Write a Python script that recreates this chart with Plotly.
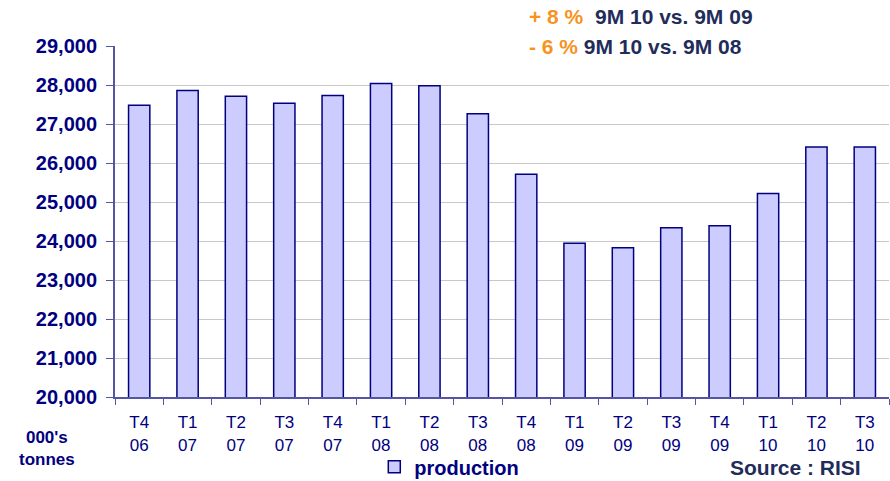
import plotly.graph_objects as go

# Quarterly production, thousand tonnes
quarters = ["T4<br>06", "T1<br>07", "T2<br>07", "T3<br>07", "T4<br>07", "T1<br>08",
            "T2<br>08", "T3<br>08", "T4<br>08", "T1<br>09", "T2<br>09", "T3<br>09",
            "T4<br>09", "T1<br>10", "T2<br>10", "T3<br>10"]
production = [27480, 27860, 27710, 27530, 27730, 28040, 27980, 27260,
              25710, 23940, 23830, 24340, 24390, 25220, 26410, 26410]
y_ticks = [20000, 21000, 22000, 23000, 24000, 25000, 26000, 27000, 28000, 29000]

NAVY = "#000080"
DARK = "#1F2D5A"
ORANGE = "#F7931E"
AXIS = "#5555A5"
FONT = "Liberation Sans, Arial, sans-serif"

fig = go.Figure()
fig.add_trace(go.Bar(
    x=quarters, y=production, name="<b>production</b>",
    marker=dict(color="#CCCCFF", line=dict(color=NAVY, width=1.5)),
    width=0.44,
))

fig.update_layout(
    width=890, height=481,
    margin=dict(l=115, r=1, t=46, b=84, autoexpand=False),
    paper_bgcolor="white", plot_bgcolor="white",
    font=dict(family=FONT, color=NAVY),
    showlegend=True,
    legend=dict(x=0.335, y=-0.199, xanchor="left", yanchor="middle",
                font=dict(size=20, color=NAVY, family=FONT),
                bgcolor="rgba(0,0,0,0)", itemwidth=30),
    xaxis=dict(
        type="category", range=[-0.5, 15.5],
        showline=True, linecolor=AXIS, linewidth=2,
        ticks="outside", tickson="boundaries", ticklen=6, tickcolor=AXIS,
        tickfont=dict(size=17, color=NAVY), ticklabelstandoff=9,
        showgrid=False,
    ),
    yaxis=dict(
        range=[20000, 29000], tickvals=y_ticks, tickformat=",d",
        showline=True, linecolor=AXIS, linewidth=2,
        ticks="outside", ticklen=7, tickcolor=AXIS,
        tickfont=dict(size=20, color=NAVY, family=FONT, weight="bold"),
        ticklabelstandoff=5,
        showgrid=True, gridcolor="#C8C8C8", gridwidth=1,
        zeroline=False,
    ),
)

# Unit label under the value axis
fig.add_annotation(text="<b>000's<br>tonnes</b>", xref="paper", yref="paper",
                   x=-0.088, y=-0.147, xanchor="center", yanchor="middle",
                   showarrow=False, align="center",
                   font=dict(size=17, color=NAVY, family=FONT))

# Source note
fig.add_annotation(text="<b>Source : RISI</b>", xref="paper", yref="paper",
                   x=0.966, y=-0.202, xanchor="right", yanchor="middle",
                   showarrow=False, font=dict(size=21, color=DARK, family=FONT))

# Year-over-year comparison box
fig.add_shape(type="rect", xref="paper", yref="paper",
              x0=0.505, x1=1.01, y0=0.995, y1=1.2,
              fillcolor="white", line=dict(width=0), layer="above")
fig.add_annotation(
    text=f"<b><span style='color:{ORANGE}'>+ 8 %</span>  9M 10 vs. 9M 09</b>",
    xref="paper", yref="paper", x=0.532, y=1.083,
    xanchor="left", yanchor="middle", showarrow=False,
    font=dict(size=21, color=DARK, family=FONT))
fig.add_annotation(
    text=f"<b><span style='color:{ORANGE}'>- 6 %</span> 9M 10 vs. 9M 08</b>",
    xref="paper", yref="paper", x=0.532, y=1.0,
    xanchor="left", yanchor="middle", showarrow=False,
    font=dict(size=21, color=DARK, family=FONT))

fig.write_html("out.html")
